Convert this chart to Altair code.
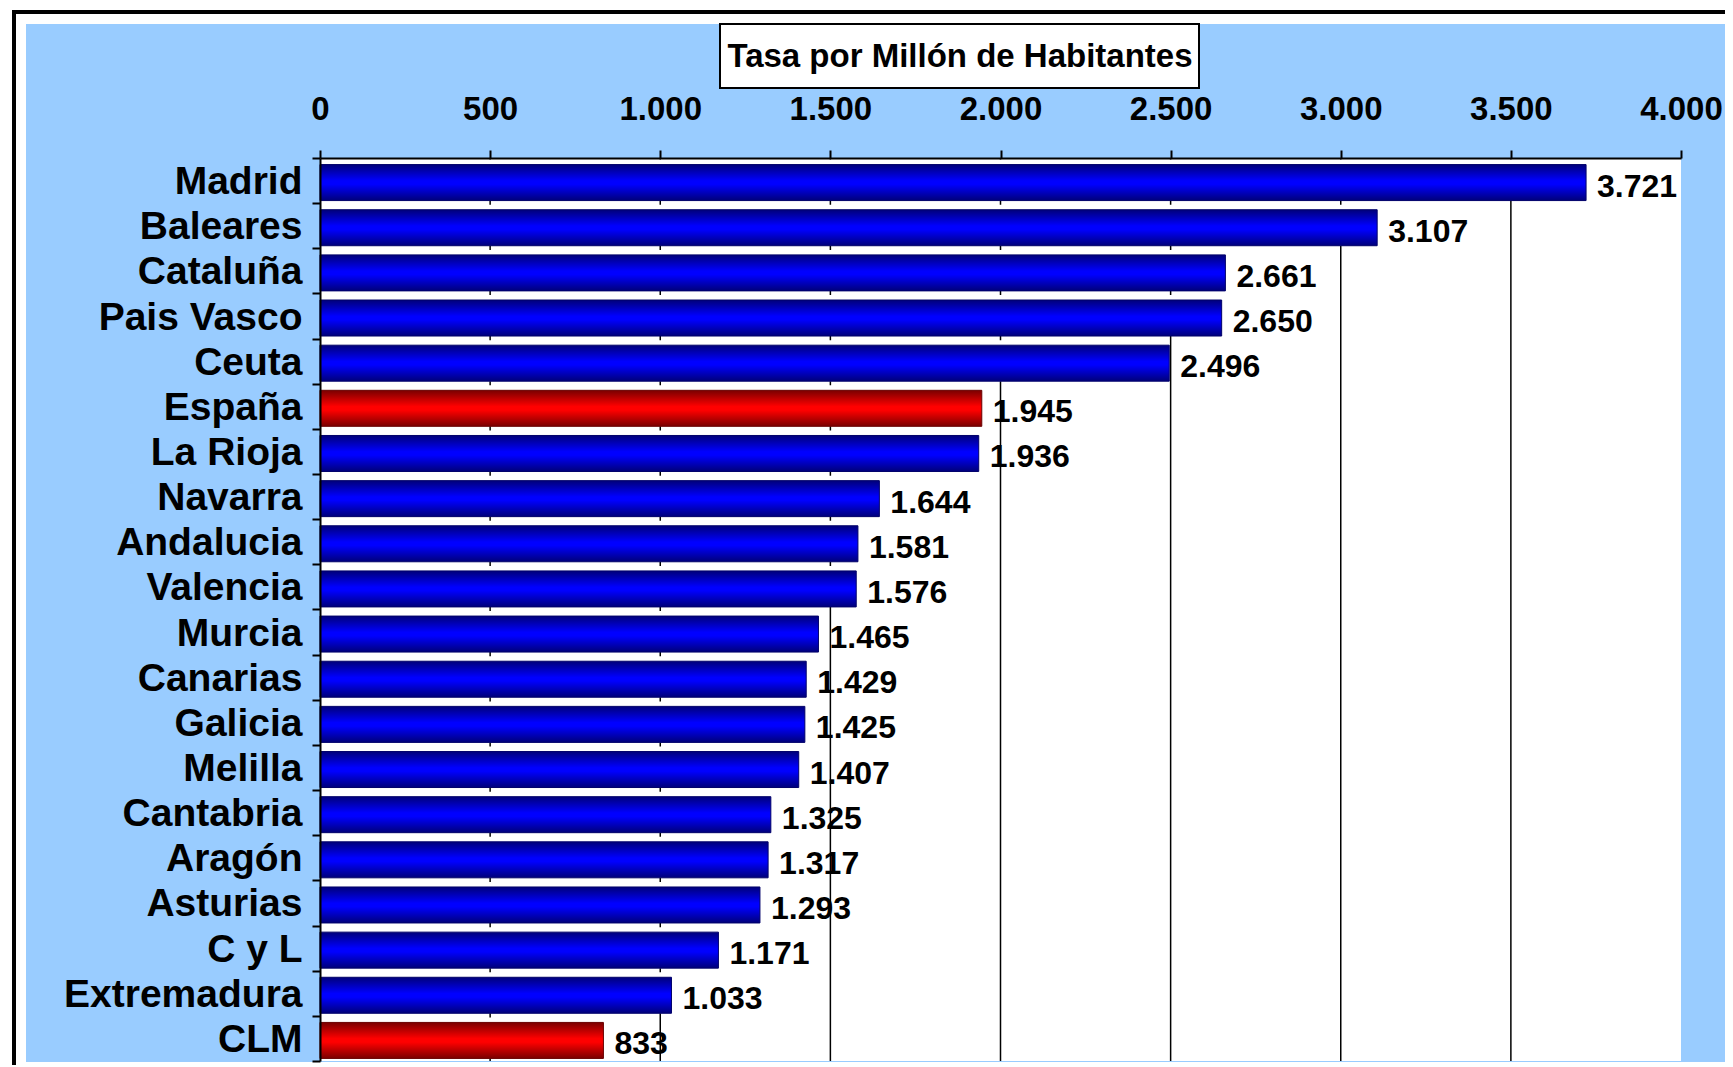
import altair as alt
import pandas as pd

regions = ["Madrid", "Baleares", "Cataluña", "Pais Vasco", "Ceuta", "España", "La Rioja",
           "Navarra", "Andalucia", "Valencia", "Murcia", "Canarias", "Galicia", "Melilla",
           "Cantabria", "Aragón", "Asturias", "C y L", "Extremadura", "CLM"]
values = [3721, 3107, 2661, 2650, 2496, 1945, 1936, 1644, 1581, 1576, 1465, 1429, 1425,
          1407, 1325, 1317, 1293, 1171, 1033, 833]
highlight = ["España", "CLM"]
grid_values = [500, 1000, 1500, 2000, 2500, 3000, 3500]
axis_ticks = [0, 500, 1000, 1500, 2000, 2500, 3000, 3500, 4000]
title_text = "Tasa por Millón de Habitantes"

df = pd.DataFrame({"region": regions, "v": values})
df["grp"] = ["red" if r in highlight else "blue" for r in regions]

W, H = 1361, 903
FONT = "Liberation Sans"

xscale = alt.Scale(domain=[0, 4000], nice=False)
xenc = alt.X("v:Q", scale=xscale, title=None,
             axis=alt.Axis(orient="top", values=axis_ticks,
                           labelExpr="replace(format(datum.value, ','), ',', '.')",
                           labelFont=FONT, labelFontWeight="bold", labelFontSize=33,
                           labelColor="black", tickColor="black", tickSize=8, tickWidth=2,
                           domainColor="black", domainWidth=2, labelPadding=24,
                           labelFlush=False, labelOverlap=False,
                           grid=False, zindex=1))
yenc = alt.Y("region:N", sort=regions, title=None,
             scale=alt.Scale(paddingInner=0, paddingOuter=0),
             axis=alt.Axis(labelFont=FONT, labelFontWeight="bold", labelFontSize=39,
                           labelColor="black", tickColor="black", tickSize=8, tickWidth=2,
                           domainColor="black", domainWidth=2, labelPadding=10,
                           labelLimit=0, labelOffset=1,
                           tickBand="extent", grid=False, zindex=1))

one = alt.Data(values=[{}])

frame = alt.Chart(one).mark_rect(fill="white", stroke="black", strokeWidth=4).encode(
    x=alt.value(-306), x2=alt.value(2000), y=alt.value(-146), y2=alt.value(1500))
bluebg = alt.Chart(one).mark_rect(fill="#99CCFF").encode(
    x=alt.value(-294), x2=alt.value(2000), y=alt.value(-134), y2=alt.value(H + 1))
titlebox = alt.Chart(one).mark_rect(fill="white", stroke="black", strokeWidth=2).encode(
    x=alt.value(400), x2=alt.value(879), y=alt.value(-134), y2=alt.value(-70))
title = alt.Chart(one).mark_text(font=FONT, fontWeight="bold", fontSize=33, color="black",
                                 align="center", baseline="middle").encode(
    x=alt.value(640), y=alt.value(-101), text=alt.value(title_text))
plotbg = alt.Chart(one).mark_rect(fill="white").encode(
    x=alt.value(0), x2=alt.value(W), y=alt.value(0), y2=alt.value(H))

grid = alt.Chart(pd.DataFrame({"v": grid_values})).mark_rule(color="black", strokeWidth=1.5).encode(
    x=alt.X("v:Q", scale=xscale), y=alt.value(0), y2=alt.value(H))

base = alt.Chart(df)
cover = base.mark_bar(height=41, yOffset=-0.5, color="white").encode(x=xenc, y=yenc)


def grad(dark, bright):
    return alt.Gradient(gradient="linear", x1=0, x2=0, y1=0, y2=1,
                        stops=[alt.GradientStop(color=dark, offset=0),
                               alt.GradientStop(color=bright, offset=0.45),
                               alt.GradientStop(color=bright, offset=0.55),
                               alt.GradientStop(color=dark, offset=1)])


bars_blue = base.transform_filter("datum.grp == 'blue'").mark_bar(
    height=36, yOffset=2, color=grad("#00007A", "#0000FF"), stroke="#00006A", strokeWidth=1).encode(
    x=alt.X("v:Q", scale=xscale), y=alt.Y("region:N", sort=regions))
bars_red = base.transform_filter("datum.grp == 'red'").mark_bar(
    height=36, yOffset=2, color=grad("#7A0000", "#FF0000"), stroke="#6A0000", strokeWidth=1).encode(
    x=alt.X("v:Q", scale=xscale), y=alt.Y("region:N", sort=regions))

labels = base.transform_calculate(
    lab="replace(format(datum.v, ','), ',', '.')").mark_text(
    font=FONT, fontWeight="bold", fontSize=32, color="black", align="left",
    baseline="middle", dx=11, dy=6).encode(
    x=alt.X("v:Q", scale=xscale), y=alt.Y("region:N", sort=regions), text="lab:N")

chart = alt.layer(frame, bluebg, titlebox, title, plotbg, grid, cover, bars_blue, bars_red,
                  labels).properties(
    width=W, height=H,
    autosize=alt.AutoSizeParams(type="none"),
    padding={"left": 312, "top": 150, "right": 44, "bottom": 4},
    background="white",
).configure_view(stroke=None)

chart.save("out.html", embed_options={"renderer": "svg", "actions": False})
